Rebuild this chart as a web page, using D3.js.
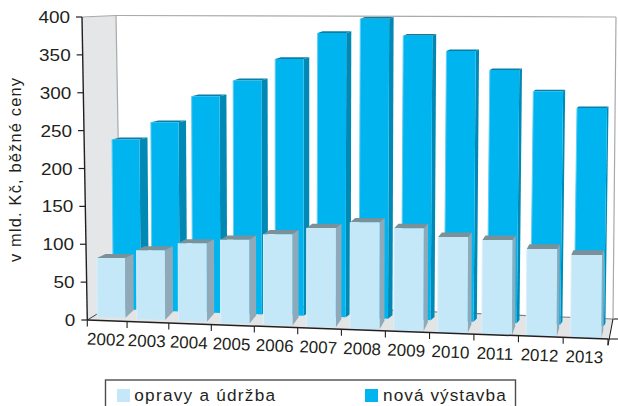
<!DOCTYPE html>
<html><head><meta charset="utf-8">
<script src="https://cdn.jsdelivr.net/npm/d3@7/dist/d3.min.js"></script>
<style>html,body{margin:0;padding:0;background:#fff;overflow:hidden}svg{display:block}text{font-family:"Liberation Sans",Arial,sans-serif;fill:#231f20}</style>
</head><body><svg id="c" width="618" height="406"></svg>
<script>
const years=["2002","2003","2004","2005","2006","2007","2008","2009","2010","2011","2012","2013"];
const novaVystavba=[227.5,251.5,287,309,338,372.7,392,370,350.6,326.4,299.6,279];
const opravyUdrzba=[77.6,89.8,101,107.7,116.6,126.6,135.8,130,120.8,118.8,109.4,103.8];
const valueTicks=[0,50,100,150,200,250,300,350,400];
const seriesNames=["opravy a údržba","nová výstavba"];

const svg=d3.select("#c");
const n=years.length, ink="#231f20";
const lerp=(a,b)=>d3.scaleLinear().domain([0,n-1]).range([a,b]);
const poly=(g,pts,fill,stroke,sw)=>g.append("polygon").attr("points",pts.map(p=>p.join(",")).join(" "))
  .attr("fill",fill).attr("stroke",stroke||"none").attr("stroke-width",sw||0);
const line=(g,a,b,c,w)=>g.append("line").attr("x1",a[0]).attr("y1",a[1]).attr("x2",b[0]).attr("y2",b[1]).attr("stroke",c).attr("stroke-width",w);

// Box corners of the 3-D scene
const FLT=[82,17],FLB=[87.3,320],BLT=[116,15.5],BLB=[121,299.5],BRT=[616,17],BRB=[613,319],FRB=[608,339];
const walls=svg.append("g");
poly(walls,[FLT,BLT,BLB,FLB],"#e5e6e8");
poly(walls,[FLB,BLB,BRB,FRB],"#e3e4e5");
line(walls,FLT,BLT,"#a8a9ab",1.2);
line(walls,BLT,BLB,"#a8a9ab",1.2);
line(walls,BLT,BRT,"#a8a9ab",1.2);
line(walls,BRT,BRB,"#a8a9ab",1.2);
line(walls,BLB,BRB,"#808285",1.2);
line(walls,FLB,BLB,"#414042",1);

// One plane of bars per series
function plane(o){
  return {
    left:d3.scalePow().exponent(1.035).domain([0,n-1]).range(o.left),
    width:lerp(...o.width), side:lerp(...o.side), rise:lerp(...o.rise),
    base:lerp(...o.base), ppu:lerp(...o.ppu), lean:lerp(...o.lean),
    face:o.face, sideC:o.sideC, top:o.top, edge:o.edge
  };
}
const back=plane({left:[112,577],width:[27.5,30],side:[8,1.5],rise:[2,1.5],base:[309,325],ppu:[.745,.778],lean:[.008,-.014],
  face:"#00b5ef",sideC:"#0089b5",top:"#0b7ea5",edge:"#63cdf2"});
const front=plane({left:[97,571.3],width:[28,30.7],side:[8.5,2],rise:[4,4.7],base:[317,338],ppu:[.76,.80],lean:[.004,-.008],
  face:"#c5e8f9",sideC:"#8fa9b8",top:"#7b9199",edge:"#d9f0fb"});
function drawBars(vals,p){
  const g=svg.append("g");
  vals.forEach((v,i)=>{
    const l=p.left(i),w=p.width(i),s=p.side(i),r=p.rise(i);
    const yb=p.base(i),yt=yb-v*p.ppu(i),dx=p.lean(i)*(yb-yt),slope=.0365*w;
    const a=[l,yt],b=[l+w,yt],c=[l+w+dx,yb+slope],d=[l+dx,yb];
    poly(g,[a,[l+s,yt-r],[l+w+s,yt-r],b],p.top);
    poly(g,[b,[l+w+s,yt-r],[l+w+s+dx,yb+slope-r*2],c],p.sideC);
    poly(g,[a,b,c,d],p.face);
    line(g,a,d,p.edge,1);
  });
}
drawBars(novaVystavba,back);
drawBars(opravyUdrzba,front);

// Value axis
const axY=d3.scaleLinear().domain([0,400]).range([FLB[1],FLT[1]]);
const axX=d3.scaleLinear().domain([0,400]).range([FLB[0],FLT[0]]);
const yg=svg.append("g");
line(yg,FLB,FLT,ink,1.4);
valueTicks.forEach(v=>{
  line(yg,[axX(v)-6,axY(v)],[axX(v),axY(v)],ink,1.2);
  yg.append("text").attr("transform",`translate(${axX(v)-12},${axY(v)+6}) scale(1.1,1)`).attr("text-anchor","end")
    .attr("font-size",17.2).text(v);
});
svg.append("text").attr("transform","translate(21,170) rotate(-90)").attr("text-anchor","middle")
  .attr("font-size",16.4).attr("textLength",184).text("v mld. Kč, běžné ceny");

// Category axis
const slot=d3.scalePow().exponent(1.035).domain([0,n]).range([FLB[0],FRB[0]]);
const floorY=d3.scaleLinear().domain([FLB[0],FRB[0]]).range([FLB[1],FRB[1]]);
const xg=svg.append("g");
line(xg,FLB,FRB,ink,1.5);
d3.range(n+1).forEach(i=>{const x=slot(i);line(xg,[x,floorY(x)],[x,floorY(x)+6.5],ink,1.1);});
years.forEach((t,i)=>{
  const x=(slot(i)+slot(i+1))/2-1.5, y=floorY(x)+24.6;
  xg.append("text").attr("transform",`translate(${x},${y}) rotate(2.2)`).attr("text-anchor","middle")
    .attr("font-size",17).text(t);
});
// Depth axis stub
line(xg,[608,345],BRB,ink,1.1);
line(xg,[608,339],[618,339],ink,1.1);
line(xg,[613.5,319],[618,319],ink,1.1);

// Legend
const lg=svg.append("g");
lg.append("rect").attr("x",105.5).attr("y",380).attr("width",410).attr("height",40).attr("fill","#fff").attr("stroke","#4d4d4f").attr("stroke-width",1.4);
const swX=[117,365],txtX=[134.3,383],txtW=[140.7,122.7],cols=[front.face,back.face];
seriesNames.forEach((s,i)=>{
  lg.append("rect").attr("x",swX[i]).attr("y",389).attr("width",13).attr("height",13).attr("fill",cols[i]);
  lg.append("text").attr("x",txtX[i]).attr("y",401.3).attr("font-size",17.2).attr("textLength",txtW[i]).text(s);
});
</script></body></html>
